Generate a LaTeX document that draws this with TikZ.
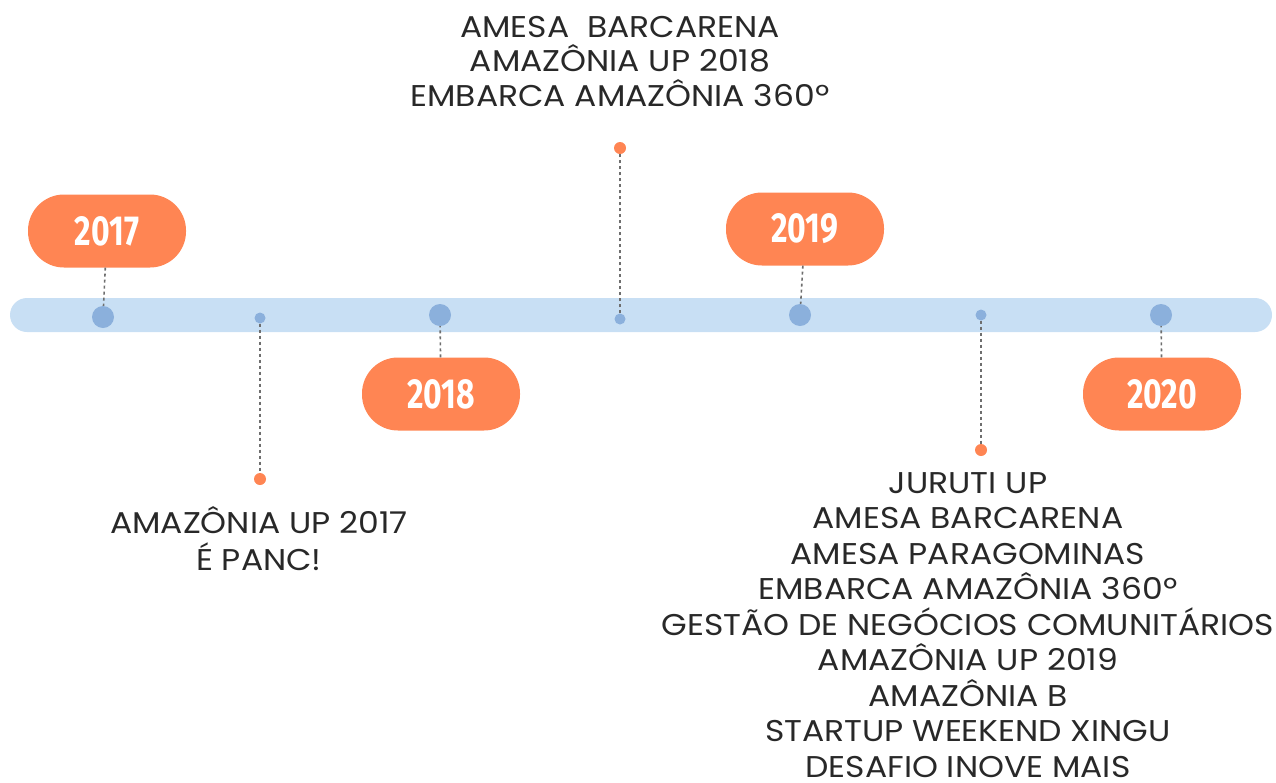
\documentclass[tikz,border=0pt]{standalone}
\usepackage{fontspec}
\setmainfont[FakeStretch=1.1]{Poppins}
\newfontfamily\yearfont[FakeStretch=0.76]{Fira Sans}
\usetikzlibrary{positioning}
\definecolor{YearColor}{RGB}{255,133,83}
\definecolor{BarColor}{RGB}{200,223,244}
\definecolor{DotColor}{RGB}{139,176,220}
\definecolor{StemColor}{RGB}{110,110,110}
\definecolor{TextColor}{RGB}{40,40,40}

\begin{document}
\begin{tikzpicture}[
    x=1pt, y=-1pt,
    yearbox/.style={rectangle, rounded corners=36pt, fill=YearColor, text=white,
        minimum width=158pt, minimum height=73pt, inner sep=0pt,
        font=\yearfont\bfseries\fontsize{42}{42}\selectfont},
    bigdot/.style={circle, fill=DotColor, minimum size=22pt, inner sep=0pt},
    smalldot/.style={circle, fill=DotColor, minimum size=11pt, inner sep=0pt},
    enddot/.style={circle, fill=YearColor, minimum size=12pt, inner sep=0pt},
    stem/.style={draw=StemColor, line width=1.6pt, dash pattern=on 3pt off 3pt},
    events/.style={align=center, anchor=base, inner sep=0pt, text=TextColor}
]
\useasboundingbox (0,0) rectangle (1276,782);

%%%%%%%%%%%%%%%%%%%%%%%%%%%%%%%%%%%%%%%%%%%%%%%%%%%%%%%%%%%%%%%%%%%
% Timeline bar
%%%%%%%%%%%%%%%%%%%%%%%%%%%%%%%%%%%%%%%%%%%%%%%%%%%%%%%%%%%%%%%%%%%
\node[rectangle, rounded corners=17pt, fill=BarColor, minimum width=1262pt,
      minimum height=34pt, inner sep=0pt] (bar) at (641, 315) {};

% Year dots
\node[bigdot] (dot2017) at (103, 317) {};
\node[bigdot] (dot2018) at (440, 315) {};
\node[bigdot] (dot2019) at (800, 315) {};
\node[bigdot] (dot2020) at (1161, 315) {};

% Event dots
\node[smalldot] (ev2017) at (260, 318) {};
\node[smalldot] (ev2018) at (620, 319) {};
\node[smalldot] (ev2019) at (981, 315) {};

%%%%%%%%%%%%%%%%%%%%%%%%%%%%%%%%%%%%%%%%%%%%%%%%%%%%%%%%%%%%%%%%%%%
% Years
%%%%%%%%%%%%%%%%%%%%%%%%%%%%%%%%%%%%%%%%%%%%%%%%%%%%%%%%%%%%%%%%%%%
\node[yearbox] (year2017) at (107, 231) {2017};
\node[yearbox] (year2018) at (441, 394) {2018};
\node[yearbox] (year2019) at (805, 229) {2019};
\node[yearbox] (year2020) at (1162, 394) {2020};

%%%%%%%%%%%%%%%%%%%%%%%%%%%%%%%%%%%%%%%%%%%%%%%%%%%%%%%%%%%%%%%%%%%
% Events
%%%%%%%%%%%%%%%%%%%%%%%%%%%%%%%%%%%%%%%%%%%%%%%%%%%%%%%%%%%%%%%%%%%
\node[enddot] (end2017) at (260, 479) {};
\node[enddot] (end2018) at (620, 148) {};
\node[enddot] (end2019) at (981, 450) {};

% base anchor = baseline of the last line
\node[events, font=\fontsize{30}{37}\selectfont] (text2017) at (259, 570)
    {AMAZÔNIA UP 2017\\É PANC!};
\node[events, font=\fontsize{30}{34.5}\selectfont] (text2018) at (620, 106)
    {AMESA\ \ BARCARENA\\AMAZÔNIA UP 2018\\EMBARCA AMAZÔNIA 360º};
\node[events, font=\fontsize{30}{35.5}\selectfont] (text2019) at (968, 777)
    {JURUTI UP\\AMESA BARCARENA\\AMESA PARAGOMINAS\\EMBARCA AMAZÔNIA 360º\\
     GESTÃO DE NEGÓCIOS COMUNITÁRIOS\\AMAZÔNIA UP 2019\\AMAZÔNIA B\\
     STARTUP WEEKEND XINGU\\DESAFIO INOVE MAIS};

%%%%%%%%%%%%%%%%%%%%%%%%%%%%%%%%%%%%%%%%%%%%%%%%%%%%%%%%%%%%%%%%%%%
% Connections
%%%%%%%%%%%%%%%%%%%%%%%%%%%%%%%%%%%%%%%%%%%%%%%%%%%%%%%%%%%%%%%%%%%
\draw[stem] (year2017) -- (dot2017);
\draw[stem] (year2018) -- (dot2018);
\draw[stem] (year2019) -- (dot2019);
\draw[stem] (year2020) -- (dot2020);
\draw[stem] (ev2017) -- (end2017);
\draw[stem] (ev2018) -- (end2018);
\draw[stem] (ev2019) -- (end2019);

\end{tikzpicture}
\end{document}
